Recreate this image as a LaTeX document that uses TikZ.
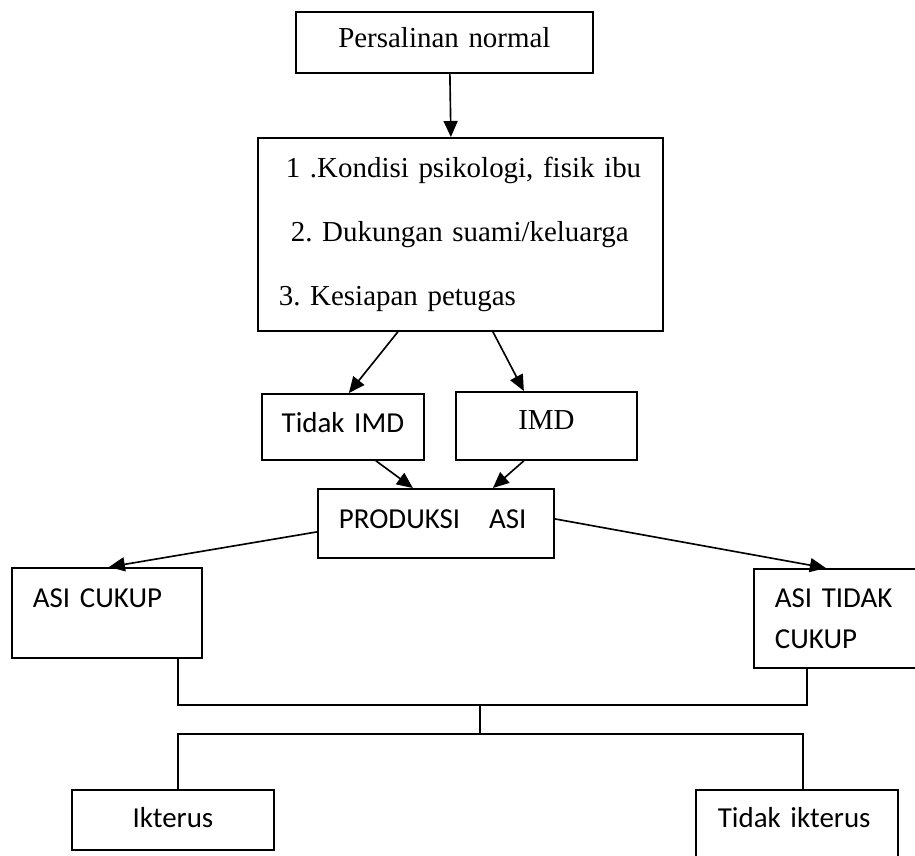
\documentclass[tikz,border=0pt]{standalone}
\usepackage{fontspec}
\setmainfont{Liberation Serif}
\newfontfamily\carlito{Carlito}
\usepackage{tikz}
\usetikzlibrary{arrows.meta, positioning}
\frenchspacing
\tikzstyle{box} = [draw, line width=1.5pt, anchor=north west, inner sep=0pt]
\tikzstyle{txtserif} = [font=\fontsize{24.7pt}{30pt}\selectfont]
\tikzstyle{txtsans} = [font=\carlito\fontsize{24.7pt}{30pt}\selectfont]
\tikzstyle{flow} = [line width=1.4pt,-{Triangle[length=0.48cm,width=0.42cm]}]
\tikzstyle{wire} = [line width=1.4pt]

\begin{document}
\begin{tikzpicture}[x=0.03cm, y=-0.03cm]
\useasboundingbox (0,0) rectangle (915,855);

% boxes, placed by their top left corner
\node[box, txtserif, text width=8.91cm, align=center,
text height=1.08cm, text depth=0.75cm] (persalinan) at (295,11) {Persalinan normal};

\node[box, text width=11.55cm, inner xsep=0.3cm, align=left,
minimum height=5.79cm,
font=\fontsize{24.7pt}{54.6pt}\selectfont] (factors) at (257,137) {
\hspace*{0.54cm}1 .Kondisi psikologi, fisik ibu\\
\hspace*{0.69cm}2. Dukungan suami/keluarga\\
\hspace*{0.33cm}3. Kesiapan petugas};

\node[box, txtsans, text width=4.86cm, align=center,
text height=1.17cm, text depth=0.81cm] (tidakimd) at (261,393) {Tidak IMD};
\node[box, txtserif, text width=5.43cm, align=center,
text height=1.14cm, text depth=0.9cm] (imd) at (455,391) {IMD};

\node[box, txtsans, text width=5.82cm, inner xsep=0.63cm, align=left,
text height=1.2cm, text depth=0.87cm] (produksi) at (317,488) {PRODUKSI\ \ \ ASI};

\node[box, txtsans, text width=4.44cm, inner xsep=0.63cm, align=left,
text height=1.2cm, text depth=1.5cm] (asicukup) at (11,567) {ASI CUKUP};
\node[box, text width=3.69cm, inner xsep=0.63cm, align=left,
minimum height=2.97cm,
font=\carlito\fontsize{24.7pt}{35pt}\selectfont] (asitidak) at (753,568) {ASI TIDAK\\CUKUP};

\node[box, txtsans, text width=6.06cm, align=center,
text height=1.14cm, text depth=0.66cm] (ikterus) at (71,789) {Ikterus};
\node[box, txtsans, text width=4.74cm, inner xsep=0.66cm, align=left,
text height=1.14cm, text depth=1.05cm] (tidakikterus) at (695,789) {Tidak ikterus};

\coordinate (join1) at (480,705);
\coordinate (join2) at (480,734);

% arrows
\draw[flow] ([xshift=0.165cm]persalinan.south) -- ([xshift=-0.285cm]factors.north);
\draw[flow] ([xshift=-1.875cm]factors.south) -- ([xshift=0.18cm]tidakimd.north);
\draw[flow] ([xshift=0.975cm]factors.south) -- ([xshift=-0.675cm]imd.north);
\draw[flow] ([xshift=0.99cm]tidakimd.south) -- ([xshift=-0.69cm]produksi.north);
\draw[flow] ([xshift=-0.675cm]imd.south) -- ([xshift=1.71cm]produksi.north);
\draw[flow] ([yshift=-0.255cm]produksi.west) -- ([xshift=0.06cm]asicukup.north);
\draw[flow] ([yshift=0.135cm]produksi.east) -- ([xshift=-0.315cm]asitidak.north);

% joining lines
\draw[wire] ([xshift=2.13cm]asicukup.south) |- (join1) -| ([xshift=-0.885cm]asitidak.south);
\draw[wire] (join1) -- (join2);
\draw[wire] ([xshift=0.15cm]ikterus.north) |- (join2) -| ([xshift=0.18cm]tidakikterus.north);
\end{tikzpicture}
\end{document}
